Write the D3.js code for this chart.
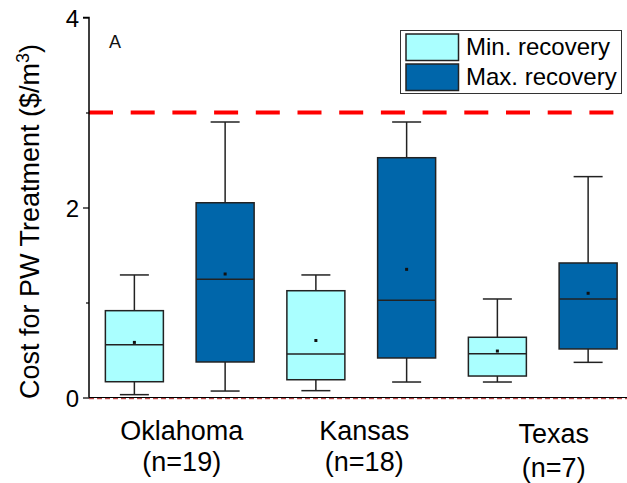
<!DOCTYPE html>
<html>
<head>
<meta charset="utf-8">
<script src="https://cdn.jsdelivr.net/npm/d3@7"></script>
<style>
  html, body { margin: 0; padding: 0; background: #fff; }
  svg { display: block; font-family: "Liberation Sans", Arial, sans-serif; }
</style>
</head>
<body>
<svg id="chart" width="627" height="483"></svg>
<script>
// Produced-water treatment cost by state, box plots for two recovery scenarios
const states = ["Oklahoma", "Kansas", "Texas"];
const sampleLabels = ["(n=19)", "(n=18)", "(n=7)"];
const series = ["Min. recovery", "Max. recovery"];

// Box statistics per state (Oklahoma, Kansas, Texas), $/m3
const minLow    = [0.03, 0.072, 0.163];
const minQ1     = [0.166, 0.187, 0.226];
const minMedian = [0.556, 0.458, 0.461];
const minQ3     = [0.914, 1.124, 0.634];
const minHigh   = [1.29, 1.29, 1.037];
const minMean   = [0.58, 0.60, 0.489];

const maxLow    = [0.068, 0.163, 0.37];
const maxQ1     = [0.374, 0.416, 0.511];
const maxMedian = [1.244, 1.023, 1.037];
const maxQ3     = [2.05, 2.524, 1.416];
const maxHigh   = [2.90, 2.90, 2.325];
const maxMean   = [1.30, 1.349, 1.097];

const thresholdValue = 3;
const yTicks = [0, 1, 2, 3, 4];
const yTickLabels = ["0", "", "2", "", "4"];
const panelLabel = "A";

const colors = { "Min. recovery": "#aaffff", "Max. recovery": "#0066aa" };
const stroke = "#222";

const boxes = [];
states.forEach((s, i) => {
  boxes.push({ state: s, series: series[0], low: minLow[i], q1: minQ1[i], median: minMedian[i], q3: minQ3[i], high: minHigh[i], mean: minMean[i] });
  boxes.push({ state: s, series: series[1], low: maxLow[i], q1: maxQ1[i], median: maxMedian[i], q3: maxQ3[i], high: maxHigh[i], mean: maxMean[i] });
});

const svg = d3.select("#chart");
const plotLeft = 89, plotTop = 17.5, plotBottom = 397.5, plotRight = 627;

const y = d3.scaleLinear().domain([0, 4]).range([plotBottom, plotTop]);
const xGroup = d3.scaleBand().domain(states).range([plotLeft, plotLeft + 3 * 181.5]).padding(0);
const xSub = d3.scalePoint().domain(series).range([0, xGroup.bandwidth()]).padding(0.5);
const boxW = 58;
const cx = d => xGroup(d.state) + xSub(d.series);

// Threshold line
svg.append("line")
  .attr("x1", plotLeft).attr("x2", plotRight)
  .attr("y1", y(thresholdValue)).attr("y2", y(thresholdValue))
  .attr("stroke", "#ff0000").attr("stroke-width", 4)
  .attr("stroke-dasharray", "24,17.7");

// Boxes
const g = svg.append("g").selectAll("g").data(boxes).join("g");
g.append("line")
  .attr("x1", cx).attr("x2", cx)
  .attr("y1", d => y(d.high)).attr("y2", d => y(d.q3))
  .attr("stroke", stroke).attr("stroke-width", 1.5);
g.append("line")
  .attr("x1", cx).attr("x2", cx)
  .attr("y1", d => y(d.q1)).attr("y2", d => y(d.low))
  .attr("stroke", stroke).attr("stroke-width", 1.5);
["high", "low"].forEach(k => {
  g.append("line")
    .attr("x1", d => cx(d) - boxW / 4).attr("x2", d => cx(d) + boxW / 4)
    .attr("y1", d => y(d[k])).attr("y2", d => y(d[k]))
    .attr("stroke", stroke).attr("stroke-width", 1.5);
});
g.append("rect")
  .attr("x", d => cx(d) - boxW / 2).attr("width", boxW)
  .attr("y", d => y(d.q3)).attr("height", d => y(d.q1) - y(d.q3))
  .attr("fill", d => colors[d.series])
  .attr("stroke", stroke).attr("stroke-width", 1.5);
g.append("line")
  .attr("x1", d => cx(d) - boxW / 2).attr("x2", d => cx(d) + boxW / 2)
  .attr("y1", d => y(d.median)).attr("y2", d => y(d.median))
  .attr("stroke", stroke).attr("stroke-width", 1.5);
g.append("rect")
  .attr("x", d => cx(d) - 1.5).attr("y", d => y(d.mean) - 1.5)
  .attr("width", 3).attr("height", 3).attr("fill", "#111");

// Bottom axis line and zero reference
svg.append("line")
  .attr("x1", plotLeft).attr("x2", plotRight)
  .attr("y1", plotBottom).attr("y2", plotBottom)
  .attr("stroke", "#000").attr("stroke-width", 1);
svg.append("line")
  .attr("x1", plotLeft).attr("x2", plotRight)
  .attr("y1", plotBottom + 1.2).attr("y2", plotBottom + 1.2)
  .attr("stroke", "#b02020").attr("stroke-width", 1)
  .attr("stroke-dasharray", "5,3");

// Y axis
const yAxis = svg.append("g").attr("transform", `translate(${plotLeft},0)`)
  .call(d3.axisLeft(y).tickValues(yTicks).tickFormat((d, i) => yTickLabels[i]).tickSize(6).tickPadding(4));
yAxis.select(".domain").attr("stroke", "#000").attr("stroke-width", 1.5)
  .attr("d", `M-6,${plotTop}H0V${plotBottom}`);
yAxis.selectAll(".tick line").attr("stroke", "#000").attr("stroke-width", 1.2)
  .attr("x2", (d, i) => yTickLabels[i] ? -6 : -3);
yAxis.selectAll(".tick text")
  .attr("font-size", 24).attr("fill", "#000")
  .attr("font-family", "Liberation Sans, Arial, sans-serif")
  .attr("dy", "0.36em");

// Y axis title
const title = svg.append("text")
  .attr("transform", `translate(39,${(plotTop + plotBottom) / 2 + 14}) rotate(-90)`)
  .attr("text-anchor", "middle")
  .attr("font-size", 27).attr("fill", "#000");
title.append("tspan").text("Cost for PW Treatment ($/m");
title.append("tspan").attr("font-size", 18).attr("dy", -10).text("3");
title.append("tspan").attr("dy", 10).text(")");

// Panel label
svg.append("text").attr("x", 109).attr("y", 48)
  .attr("font-size", 18).attr("fill", "#111").text(panelLabel);

// Category labels
const labelShift = { Oklahoma: [2, 0], Kansas: [3, 0], Texas: [11, 3] };
states.forEach((s, i) => {
  const xc = xGroup(s) + xGroup.bandwidth() / 2 + labelShift[s][0];
  const dy = labelShift[s][1];
  svg.append("text").attr("x", xc).attr("y", 440 + dy)
    .attr("text-anchor", "middle").attr("font-size", 27).attr("fill", "#000").text(s);
  svg.append("text").attr("x", xc).attr("y", 471 + dy * 2)
    .attr("text-anchor", "middle").attr("font-size", 27).attr("fill", "#000").text(sampleLabels[i]);
});

// Legend
const lg = svg.append("g");
lg.append("rect").attr("x", 400.5).attr("y", 30.5).attr("width", 221).attr("height", 63)
  .attr("fill", "#fff").attr("stroke", "#333").attr("stroke-width", 1);
series.forEach((s, i) => {
  lg.append("rect").attr("x", 406).attr("y", 34 + i * 30).attr("width", 52.5).attr("height", 26.5)
    .attr("fill", colors[s]).attr("stroke", stroke).attr("stroke-width", 1.5);
  lg.append("text").attr("x", 466).attr("y", 55 + i * 30)
    .attr("font-size", 24).attr("fill", "#000").text(s);
});
</script>
</body>
</html>
